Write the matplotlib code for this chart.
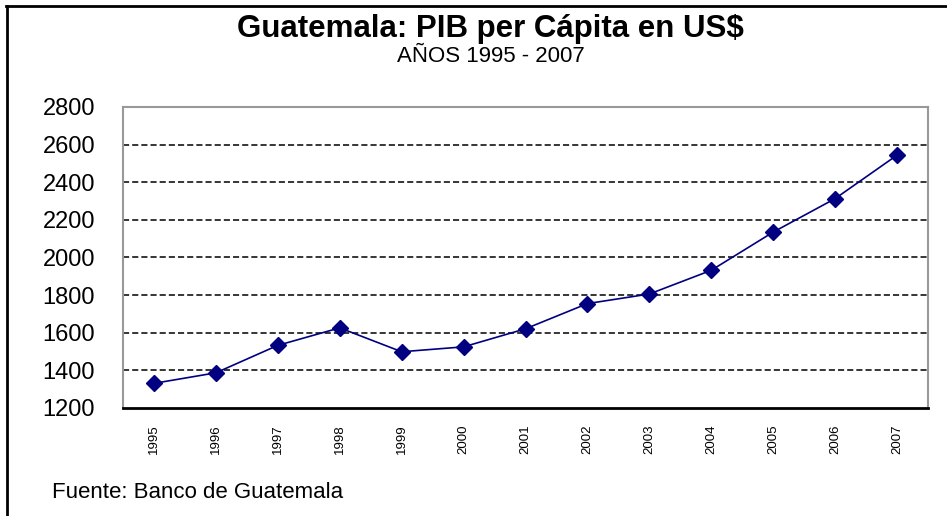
import matplotlib.pyplot as plt
from matplotlib.lines import Line2D

plt.rcParams['font.family'] = ['Liberation Sans', 'DejaVu Sans']

years = ['1995', '1996', '1997', '1998', '1999', '2000', '2001',
         '2002', '2003', '2004', '2005', '2006', '2007']
pib = [1331, 1387, 1533, 1626, 1499, 1525, 1621,
       1755, 1806, 1932, 2135, 2313, 2544]
y_ticks = [1200, 1400, 1600, 1800, 2000, 2200, 2400, 2600, 2800]

fig = plt.figure(figsize=(9.47, 5.16), dpi=100)
ax = fig.add_axes([123 / 947, 1 - 408 / 516, 805 / 947, 301 / 516])

x = list(range(len(years)))
ax.plot(x, pib, color='#000080', linewidth=1.2, marker='D', markersize=8,
        markerfacecolor='#000080', markeredgecolor='#000080', zorder=3)

ax.set_xlim(-0.5, len(years) - 0.5)
ax.set_ylim(1200, 2800)
ax.set_yticks(y_ticks)
ax.set_yticklabels([str(v) for v in y_ticks], fontsize=17)
ax.set_xticks(x)
ax.set_xticklabels(years, rotation=90, fontsize=9.5)
ax.tick_params(axis='y', length=0, pad=20)
ax.tick_params(axis='x', length=0, pad=12)

for v in y_ticks[1:-1]:
    ax.axhline(v, color='black', linestyle=(0, (4, 2)), linewidth=1.1, zorder=1)

for side in ['left', 'right', 'top']:
    ax.spines[side].set_color('#999999')
    ax.spines[side].set_linewidth(1.5)
ax.spines['bottom'].set_color('black')
ax.spines['bottom'].set_linewidth(2)

fig.text(490 / 947, 1 - 29 / 516, 'Guatemala: PIB per Cápita en US$',
         ha='center', va='center', fontsize=22.5, fontweight='bold')
fig.text(491 / 947, 1 - 57 / 516, 'AÑOS 1995 - 2007',
         ha='center', va='center', fontsize=16)
fig.text(52 / 947, 1 - 492 / 516, 'Fuente: Banco de Guatemala',
         ha='left', va='center', fontsize=16)

# outer frame: left and top edges only
fig.add_artist(Line2D([7 / 947, 7 / 947], [0, 1 - 6 / 516],
                      transform=fig.transFigure, color='black', linewidth=2))
fig.add_artist(Line2D([6 / 947, 1], [1 - 6 / 516, 1 - 6 / 516],
                      transform=fig.transFigure, color='black', linewidth=2))

fig.savefig('out.png', dpi=100)
